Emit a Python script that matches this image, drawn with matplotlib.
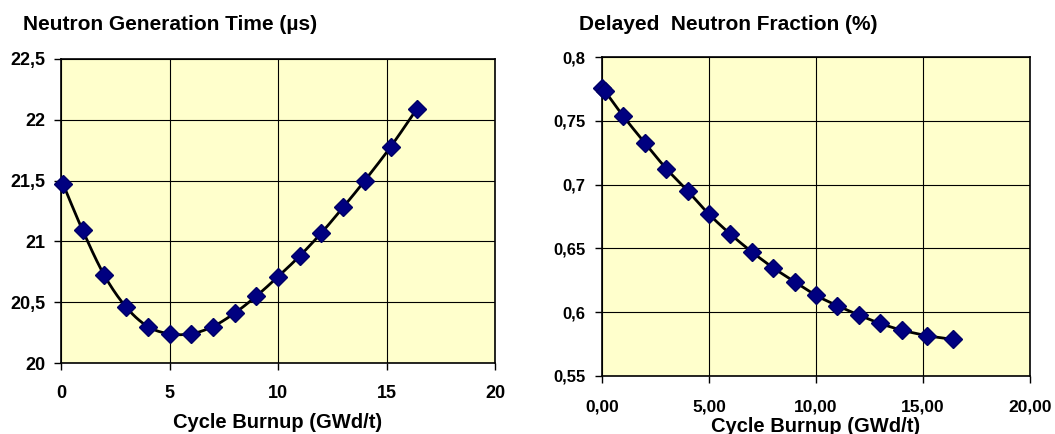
import numpy as np
import matplotlib
matplotlib.use("Agg")
import matplotlib.pyplot as plt
from matplotlib.ticker import FuncFormatter

plt.rcParams['font.family'] = ['Liberation Sans', 'DejaVu Sans']
plt.rcParams['font.weight'] = 'bold'

# Left chart: neutron generation time
burnup_gen = [0.1, 1, 2, 3, 4, 5, 6, 7, 8, 9, 10, 11, 12, 13, 14, 15.2, 16.4]
gen_time = [21.47, 21.09, 20.72, 20.46, 20.30, 20.24, 20.24, 20.30, 20.41, 20.55,
            20.71, 20.88, 21.07, 21.28, 21.50, 21.78, 22.09]

# Right chart: delayed neutron fraction
burnup_beta = [0.0, 0.15, 1, 2, 3, 4, 5, 6, 7, 8, 9, 10, 11, 12, 13, 14, 15.2, 16.4]
beta = [0.776, 0.773, 0.7535, 0.7327, 0.7126, 0.6951, 0.6768, 0.6612, 0.6473, 0.6348,
        0.6239, 0.6132, 0.6051, 0.5978, 0.5912, 0.5860, 0.5816, 0.5787]

left_yticks = [20, 20.5, 21, 21.5, 22, 22.5]
right_yticks = [0.55, 0.6, 0.65, 0.7, 0.75, 0.8]
xticks = [0, 5, 10, 15, 20]


def smooth(x, y, n=20):
    x = np.asarray(x, float); y = np.asarray(y, float)
    P = np.column_stack([x, y])
    P = np.vstack([P[0], P, P[-1]])
    out = []
    for i in range(1, len(P) - 2):
        p0, p1, p2, p3 = P[i - 1], P[i], P[i + 1], P[i + 2]
        t = np.linspace(0, 1, n, endpoint=False)[:, None]
        pts = 0.5 * ((2 * p1) + (-p0 + p2) * t + (2 * p0 - 5 * p1 + 4 * p2 - p3) * t ** 2
                     + (-p0 + 3 * p1 - 3 * p2 + p3) * t ** 3)
        out.append(pts)
    out.append(P[-2][None, :])
    out = np.vstack(out)
    return out[:, 0], out[:, 1]


W, H = 1055, 434
fig = plt.figure(figsize=(W / 100, H / 100), dpi=100)
fig.patch.set_facecolor('white')


def make_ax(l, r, t, b):
    return fig.add_axes([l / W, 1 - b / H, (r - l) / W, (b - t) / H])


def comma(fmt):
    return FuncFormatter(lambda v, p: (fmt % v).replace('.', ','))


def style(ax, size):
    ax.set_facecolor('#FFFFCC')
    ax.grid(True, color='black', linewidth=0.8)
    ax.set_axisbelow(True)
    for s in ax.spines.values():
        s.set_color('black')
        s.set_linewidth(1.2)
    ax.tick_params(direction='out', length=5, width=1, labelsize=size)
    for lab in ax.get_xticklabels() + ax.get_yticklabels():
        lab.set_fontweight('bold')


ax1 = make_ax(61, 495, 59, 363)
sx, sy = smooth(burnup_gen, gen_time)
ax1.plot(sx, sy, color='black', linewidth=2, zorder=3)
ax1.plot(burnup_gen, gen_time, linestyle='none', marker='D', markersize=9.5,
         color='#000080', markeredgecolor='#000066', zorder=4, clip_on=False)
ax1.set_xlim(0, 20)
ax1.set_ylim(20, 22.5)
ax1.set_xticks(xticks)
ax1.set_yticks(left_yticks)
ax1.xaxis.set_major_formatter(comma('%g'))
ax1.yaxis.set_major_formatter(comma('%g'))
style(ax1, 13)
ax1.tick_params(axis='x', pad=11)
ax1.tick_params(axis='y', pad=6)
fig.text(23 / W, 1 - 24 / H, 'Neutron Generation Time (\u00b5s)', fontsize=15,
         fontweight='bold', va='center', ha='left')
fig.text(278 / W, 1 - 422 / H, 'Cycle Burnup (GWd/t)', fontsize=14.5,
         fontweight='bold', va='center', ha='center')

ax2 = make_ax(602, 1030, 57, 376)
sx, sy = smooth(burnup_beta, beta)
ax2.plot(sx, sy, color='black', linewidth=2, zorder=3)
ax2.plot(burnup_beta, beta, linestyle='none', marker='D', markersize=9.5,
         color='#000080', markeredgecolor='#000066', zorder=4, clip_on=False)
ax2.set_xlim(0, 20)
ax2.set_ylim(0.55, 0.8)
ax2.set_xticks(xticks)
ax2.set_yticks(right_yticks)
ax2.xaxis.set_major_formatter(comma('%.2f'))
ax2.yaxis.set_major_formatter(comma('%g'))
style(ax2, 12.5)
ax2.tick_params(axis='x', pad=12)
ax2.tick_params(axis='y', pad=7, labelsize=12)
fig.text(579 / W, 1 - 24 / H, 'Delayed  Neutron Fraction (%)', fontsize=15,
         fontweight='bold', va='center', ha='left')
fig.text(816 / W, 1 - 426 / H, 'Cycle Burnup (GWd/t)', fontsize=14.5,
         fontweight='bold', va='center', ha='center')

fig.savefig('out.png', dpi=100)
